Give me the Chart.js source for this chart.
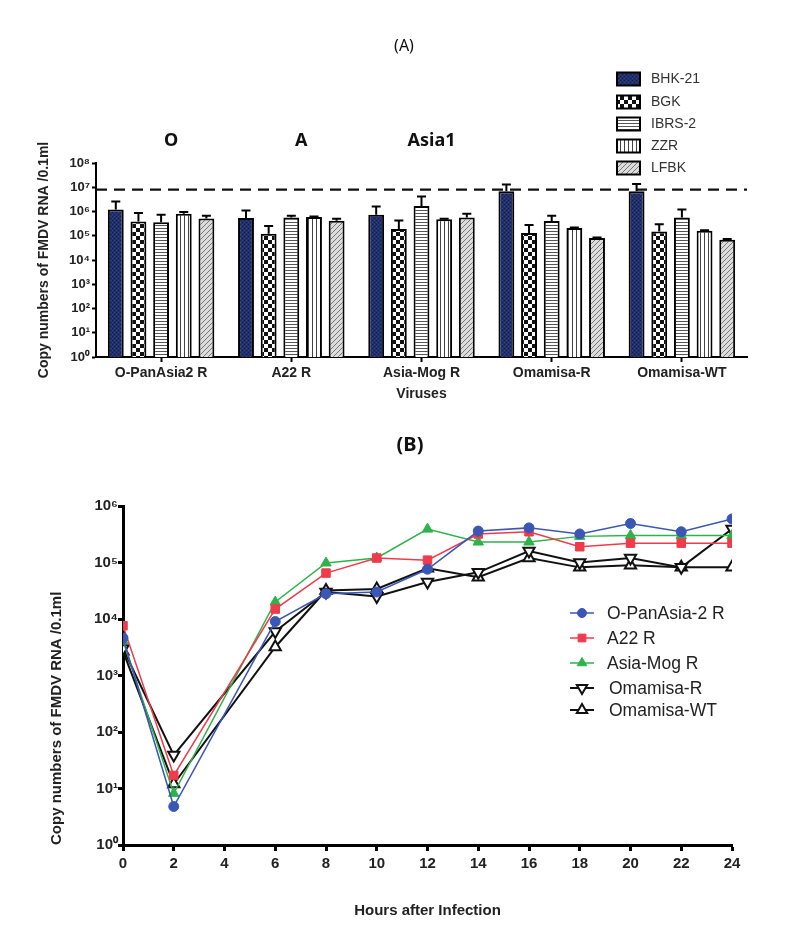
<!DOCTYPE html>
<html><head><meta charset="utf-8">
<script src="https://cdn.jsdelivr.net/npm/chart.js@4.4.1/dist/chart.umd.min.js"></script>
<style>
html,body{margin:0;padding:0;background:#fff;}
#wrap{position:relative;width:794px;height:928px;overflow:hidden;}
#ca{position:absolute;left:0;top:0;}
#cb{position:absolute;left:0;top:420px;}
</style></head><body>
<div id="wrap">
<canvas id="ca" width="794" height="420"></canvas>
<canvas id="cb" width="794" height="508"></canvas>
</div>
<script>
// ---------- Panel A data ----------
const categoriesA = ['O-PanAsia2 R', 'A22 R', 'Asia-Mog R', 'Omamisa-R', 'Omamisa-WT'];
const cellLines = ['BHK-21', 'BGK', 'IBRS-2', 'ZZR', 'LFBK'];
const bhk21 = [1.2e6, 5.4e5, 7.4e5, 6.8e6, 6.8e6];
const bhk21Upper = [2.6e6, 1.1e6, 1.6e6, 1.3e7, 1.35e7];
const bgk = [3.9e5, 1.2e5, 1.9e5, 1.3e5, 1.5e5];
const bgkUpper = [8.7e5, 2.5e5, 4.3e5, 2.8e5, 3.0e5];
const ibrs2 = [3.6e5, 5.7e5, 1.7e6, 4.1e5, 5.7e5];
const ibrs2Upper = [7.4e5, 6.7e5, 4.2e6, 6.7e5, 1.2e6];
const zzr = [8.1e5, 5.9e5, 4.8e5, 2.1e5, 1.6e5];
const zzrUpper = [9.5e5, 6.2e5, 5.0e5, 2.2e5, 1.7e5];
const lfbk = [5.2e5, 4.2e5, 5.7e5, 8.1e4, 6.9e4];
const lfbkUpper = [6.7e5, 5.0e5, 8.1e5, 8.5e4, 7.3e4];
const thresholdA = 8e6;
const serotypes = ['O', 'A', 'Asia1'];
const yTicksA = [1, 10, 1e2, 1e3, 1e4, 1e5, 1e6, 1e7, 1e8];
const yTickLabelsA = ['10⁰', '10¹', '10²', '10³', '10⁴', '10⁵', '10⁶', '10⁷', '10⁸'];

// ---------- Panel B data ----------
const hours = [0, 2, 6, 8, 10, 12, 14, 16, 18, 20, 22, 24];
const seriesNamesB = ['O-PanAsia-2 R', 'A22 R', 'Asia-Mog R', 'Omamisa-R', 'Omamisa-WT'];
const oPanAsia2 = [4.6e3, 4.8, 9.0e3, 2.8e4, 3.0e4, 7.6e4, 3.6e5, 4.1e5, 3.2e5, 4.9e5, 3.5e5, 5.9e5];
const a22 = [7.6e3, 17, 1.5e4, 6.5e4, 1.2e5, 1.1e5, 3.2e5, 3.5e5, 1.9e5, 2.2e5, 2.2e5, 2.2e5];
const asiaMog = [4.1e3, 8.2, 2.0e4, 9.8e4, 1.2e5, 3.9e5, 2.3e5, 2.3e5, 2.9e5, 3.0e5, 3.0e5, 3.0e5];
const omamisaR = [3.0e3, 39, 6.0e3, 3.0e4, 2.5e4, 4.5e4, 6.7e4, 1.6e5, 1.0e5, 1.2e5, 8.2e4, 3.9e5];
const omamisaWT = [2.7e3, 12, 3.2e3, 3.2e4, 3.4e4, 7.9e4, 5.5e4, 1.2e5, 8.2e4, 8.9e4, 8.2e4, 8.2e4];
const yTicksB = [1, 10, 1e2, 1e3, 1e4, 1e5, 1e6];
const yTickLabelsB = ['10⁰', '10¹', '10²', '10³', '10⁴', '10⁵', '10⁶'];

const FONT = '"Liberation Sans", Arial, sans-serif';

// ---------- patterns ----------
const tmpCtx = document.createElement('canvas').getContext('2d');
function makePattern(w, h, draw) {
  const c = document.createElement('canvas'); c.width = w; c.height = h;
  const g = c.getContext('2d'); draw(g, w, h);
  return tmpCtx.createPattern(c, 'repeat');
}
const patBHK = makePattern(4, 4, (g) => {
  g.fillStyle = '#21306a'; g.fillRect(0, 0, 4, 4);
  g.fillStyle = '#141d48'; g.fillRect(0, 0, 1, 1); g.fillRect(2, 2, 1, 1);
  g.fillStyle = '#324386'; g.fillRect(2, 0, 1, 1); g.fillRect(0, 2, 1, 1);
});
const patBGK = makePattern(8, 8, (g) => {
  g.fillStyle = '#111'; g.fillRect(0, 0, 8, 8);
  g.fillStyle = '#fff'; g.fillRect(0, 0, 4, 4); g.fillRect(4, 4, 4, 4);
});
const patIBRS = makePattern(3, 3, (g) => {
  g.fillStyle = '#fff'; g.fillRect(0, 0, 3, 3);
  g.fillStyle = '#555'; g.fillRect(0, 0, 3, 1);
});
const patZZR = makePattern(4, 4, (g) => {
  g.fillStyle = '#fff'; g.fillRect(0, 0, 4, 4);
  g.fillStyle = '#444'; g.fillRect(0, 0, 1, 4);
});
const patLFBK = makePattern(5, 5, (g) => {
  g.fillStyle = '#dcdcdc'; g.fillRect(0, 0, 5, 5);
  g.strokeStyle = '#777'; g.lineWidth = 1;
  g.beginPath(); g.moveTo(-1, 6); g.lineTo(6, -1); g.moveTo(-1, 1); g.lineTo(1, -1); g.moveTo(4, 6); g.lineTo(6, 4); g.stroke();
});
const patternsA = [patBHK, patBGK, patIBRS, patZZR, patLFBK];
const valuesA = [bhk21, bgk, ibrs2, zzr, lfbk];
const uppersA = [bhk21Upper, bgkUpper, ibrs2Upper, zzrUpper, lfbkUpper];

// ---------- plugins for panel A ----------
const panelAExtras = {
  id: 'panelAExtras',
  beforeDatasetsDraw(chart) {
    const ctx = chart.ctx, y = chart.scales.y, a = chart.chartArea;
    const yy = y.getPixelForValue(thresholdA);
    ctx.save(); ctx.strokeStyle = '#111'; ctx.lineWidth = 2.2; ctx.setLineDash([11, 7]);
    ctx.beginPath(); ctx.moveTo(a.left, yy); ctx.lineTo(a.right, yy); ctx.stroke(); ctx.restore();
  },
  afterDatasetsDraw(chart) {
    const ctx = chart.ctx, y = chart.scales.y;
    chart.data.datasets.forEach((ds, i) => {
      const meta = chart.getDatasetMeta(i);
      meta.data.forEach((bar, j) => {
        const up = ds.upper[j];
        const yt = y.getPixelForValue(up);
        ctx.save(); ctx.strokeStyle = '#000'; ctx.lineWidth = 2;
        ctx.beginPath(); ctx.moveTo(bar.x, bar.y); ctx.lineTo(bar.x, yt);
        ctx.moveTo(bar.x - 4.5, yt); ctx.lineTo(bar.x + 4.5, yt); ctx.stroke(); ctx.restore();
      });
    });
  },
  afterDraw(chart) {
    const ctx = chart.ctx, x = chart.scales.x;
    ctx.save();
    ctx.fillStyle = '#111'; ctx.textAlign = 'center'; ctx.textBaseline = 'middle';
    ctx.font = '16px "Noto Sans", sans-serif';
    ctx.fillText('(A)', 404, 46);
    ctx.font = 'bold 18px "Noto Sans", sans-serif';
    serotypes.forEach((s, i) => ctx.fillText(s, x.getPixelForValue(i) + 10, 141));
    // legend
    const rows = [79, 102, 124, 146, 168];
    ctx.textAlign = 'left'; ctx.font = '14px ' + FONT; ctx.fillStyle = '#333';
    chart.data.datasets.forEach((ds, i) => {
      const ry = rows[i];
      ctx.fillStyle = ds.backgroundColor; ctx.fillRect(617, ry - 6.5, 23, 13);
      ctx.strokeStyle = '#000'; ctx.lineWidth = 2; ctx.strokeRect(617, ry - 6.5, 23, 13);
      ctx.fillStyle = '#333'; ctx.fillText(ds.label, 651, ry);
    });
    ctx.restore();
  }
};

new Chart(document.getElementById('ca'), {
  type: 'bar',
  data: {
    labels: categoriesA,
    datasets: cellLines.map((name, i) => ({
      label: name, data: valuesA[i], upper: uppersA[i],
      backgroundColor: patternsA[i], borderColor: '#000', borderWidth: 2,
      barPercentage: 0.7, categoryPercentage: 0.87
    }))
  },
  options: {
    responsive: false, animation: false,
    layout: { padding: { left: 34, top: 163, right: 47, bottom: 13 } },
    plugins: { legend: { display: false }, tooltip: { enabled: false } },
    scales: {
      x: {
        grid: { display: true, drawOnChartArea: false, offset: false, tickLength: 5, tickWidth: 2, tickColor: '#000' },
        border: { color: '#000', width: 2 },
        ticks: { color: '#222', font: { family: FONT, size: 14, weight: 'bold' }, padding: 3 },
        title: { display: true, text: 'Viruses', color: '#222', font: { family: FONT, size: 14, weight: 'bold' }, padding: { top: 0, bottom: 4 } },
        afterFit(s) { s.height = 50; }
      },
      y: {
        type: 'logarithmic', min: 1, max: 1e8,
        afterBuildTicks(s) { s.ticks = yTicksA.map(v => ({ value: v })); },
        grid: { display: true, drawOnChartArea: false, tickLength: 4, tickWidth: 2, tickColor: '#000' },
        border: { color: '#000', width: 2 },
        ticks: { color: '#222', font: { family: FONT, size: 13, weight: 'bold' }, padding: 2,
          callback: (v) => yTickLabelsA[Math.round(Math.log10(v))] },
        title: { display: true, text: 'Copy numbers of FMDV RNA /0.1ml', color: '#222', font: { family: FONT, size: 14, weight: 'bold' }, padding: { top: 2, bottom: 0 } },
        afterFit(s) { s.width = 62; }
      }
    }
  },
  plugins: [panelAExtras]
});

// ---------- Panel B ----------
const seriesB = [oPanAsia2, a22, asiaMog, omamisaR, omamisaWT];
const stylesB = [
  { color: '#3b57b6', fill: '#3b57b6', pointStyle: 'circle', rotation: 0, radius: 5, lw: 1.5, pbw: 1 },
  { color: '#ef3b4b', fill: '#ef3b4b', pointStyle: 'rect', rotation: 0, radius: 6, lw: 1.5, pbw: 1 },
  { color: '#2eb34a', fill: '#2eb34a', pointStyle: 'triangle', rotation: 0, radius: 6, lw: 1.5, pbw: 1 },
  { color: '#111', fill: '#fff', pointStyle: 'triangle', rotation: 180, radius: 6.5, lw: 2, pbw: 2 },
  { color: '#111', fill: '#fff', pointStyle: 'triangle', rotation: 0, radius: 6.5, lw: 2, pbw: 2 }
];

const panelBExtras = {
  id: 'panelBExtras',
  afterDraw(chart) {
    const ctx = chart.ctx;
    ctx.save();
    ctx.fillStyle = '#111'; ctx.textAlign = 'center'; ctx.textBaseline = 'middle';
    ctx.font = 'bold 20px "Noto Sans", sans-serif';
    ctx.fillText('(B)', 410, 25);
    const rows = [193, 218, 243, 268, 290];
    ctx.textAlign = 'left'; ctx.font = '17.5px ' + FONT;
    chart.data.datasets.forEach((ds, i) => {
      const st = stylesB[i], ry = rows[i];
      ctx.strokeStyle = st.color; ctx.lineWidth = st.lw;
      ctx.beginPath(); ctx.moveTo(570, ry); ctx.lineTo(594, ry); ctx.stroke();
      ctx.fillStyle = st.fill; ctx.strokeStyle = st.color; ctx.lineWidth = st.pbw;
      Chart.helpers.drawPoint(ctx, { pointStyle: st.pointStyle, rotation: st.rotation, radius: st.radius - 0.5, borderWidth: st.pbw }, 582, ry);
      ctx.fillStyle = '#222';
      ctx.fillText(ds.label, i < 3 ? 607 : 609, ry + 1);
    });
    ctx.restore();
  }
};

new Chart(document.getElementById('cb'), {
  type: 'line',
  data: {
    datasets: seriesNamesB.map((name, i) => ({
      label: name,
      data: hours.map((h, k) => ({ x: h, y: seriesB[i][k] })),
      borderColor: stylesB[i].color, backgroundColor: stylesB[i].fill,
      pointBackgroundColor: stylesB[i].fill, pointBorderColor: stylesB[i].color,
      pointBorderWidth: stylesB[i].pbw, pointStyle: stylesB[i].pointStyle,
      pointRotation: stylesB[i].rotation, pointRadius: stylesB[i].radius,
      borderWidth: stylesB[i].lw, tension: 0, fill: false
    }))
  },
  options: {
    responsive: false, animation: false,
    layout: { padding: { left: 44, top: 86, right: 62, bottom: 4 } },
    plugins: { legend: { display: false }, tooltip: { enabled: false } },
    scales: {
      x: {
        type: 'linear', min: 0, max: 24,
        grid: { display: true, drawOnChartArea: false, tickLength: 6, tickWidth: 3, tickColor: '#000' },
        border: { color: '#000', width: 3 },
        ticks: { stepSize: 2, color: '#222', font: { family: FONT, size: 15, weight: 'bold' }, padding: 4 },
        title: { display: true, text: 'Hours after Infection', color: '#222', font: { family: FONT, size: 15, weight: 'bold' }, padding: { top: 0, bottom: 4 } },
        afterFit(s) { s.height = 79; }
      },
      y: {
        type: 'logarithmic', min: 1, max: 1e6,
        afterBuildTicks(s) { s.ticks = yTicksB.map(v => ({ value: v })); },
        grid: { display: true, drawOnChartArea: false, tickLength: 5, tickWidth: 3, tickColor: '#000' },
        border: { color: '#000', width: 3 },
        ticks: { color: '#222', font: { family: FONT, size: 15, weight: 'bold' }, padding: 0,
          callback: (v) => yTickLabelsB[Math.round(Math.log10(v))] },
        title: { display: true, text: 'Copy numbers of FMDV RNA /0.1ml', align: 'start', color: '#222', font: { family: FONT, size: 15, weight: 'bold' }, padding: { top: 4, bottom: 0 } },
        afterFit(s) { s.width = 79; }
      }
    }
  },
  plugins: [panelBExtras]
});
</script>
</body></html>
